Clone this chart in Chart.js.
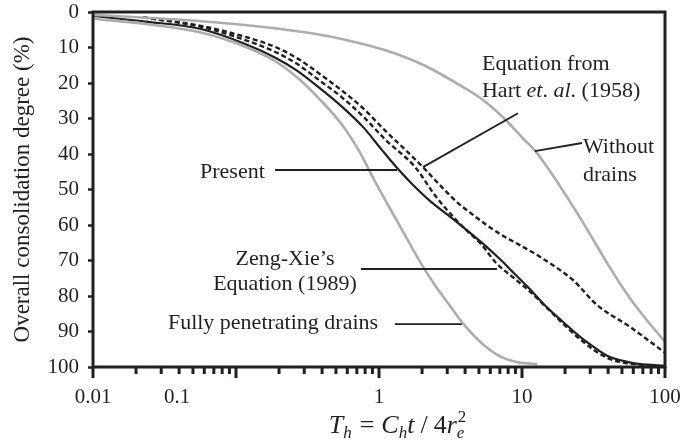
<!DOCTYPE html>
<html><head><meta charset="utf-8">
<script src="https://cdn.jsdelivr.net/npm/chart.js@4/dist/chart.umd.min.js"></script>
<style>html,body{margin:0;padding:0;background:#fff;}#wrap{width:684px;height:445px;}</style>
</head><body><div id="wrap"><canvas id="c" width="684" height="445"></canvas></div>
<script>
// ---- axis tick labels ----
const xTickValues = [0.01, 0.0387, 1, 10, 100];
const xTickLabels = ['0.01', '0.1', '1', '10', '100'];
const yTickValues = [0, 10, 20, 30, 40, 50, 60, 70, 80, 90, 100];

// ---- series (T_h, overall consolidation degree %) ----
const presentT = [0.01, 0.0233, 0.0569, 0.116, 0.187, 0.267, 0.381, 0.545, 0.778, 1.05, 1.33, 1.69, 2.27, 3.06, 4.09, 5.53, 7.0, 8.9, 11.2, 14.2, 18.5, 25.5, 30.8, 39.3, 50, 66.8, 100];
const presentU = [1.1, 2.7, 4.8, 9.0, 12.8, 16.5, 21.3, 26.5, 32.5, 38.9, 43.8, 48.3, 53.2, 57.3, 61.4, 65.8, 69.6, 73.8, 77.8, 82.3, 86.6, 91.5, 94.0, 96.8, 98.2, 99.2, 99.6];

const fullyT = [0.01, 0.0233, 0.0569, 0.116, 0.187, 0.267, 0.381, 0.545, 0.734, 0.931, 1.18, 1.50, 1.90, 2.41, 3.06, 3.88, 5.23, 7.04, 9.48, 12.8];
const fullyU = [1.9, 3.4, 5.8, 9.8, 13.8, 18.4, 24.4, 31.5, 39.5, 47.5, 55.0, 62.4, 69.8, 76.4, 82.2, 87.8, 93.3, 97.0, 98.7, 99.2];

const withoutT = [0.01, 0.0233, 0.0569, 0.139, 0.339, 0.611, 1.11, 2.01, 3.64, 5.23, 7.52, 10.1, 12.4, 16.1, 21.7, 29.3, 39.5, 53.3, 71.9, 100];
const withoutU = [0.8, 1.6, 2.6, 4.0, 6.0, 8.0, 10.8, 14.8, 20.5, 24.5, 30.0, 35.5, 39.2, 45.5, 53.5, 62.0, 70.8, 79.0, 86.0, 92.9];

const hartT = [0.0224, 0.0569, 0.116, 0.187, 0.267, 0.381, 0.545, 0.778, 1.11, 1.50, 2.03, 2.7, 3.5, 4.6, 6.68, 10, 13.4, 22.7, 33.4, 56.9, 100];
const hartU = [1.5, 3.9, 7.0, 9.8, 13.0, 17.3, 22.0, 27.2, 33.5, 38.5, 43.7, 49.0, 53.5, 57.3, 62.0, 66.0, 69.0, 75.5, 82.5, 88.7, 96.0];

const zengT = [0.0224, 0.0569, 0.116, 0.187, 0.267, 0.381, 0.545, 0.778, 1.11, 1.79, 2.5, 3.64, 5.2, 6.63, 9.0, 11.4, 18.5, 25.5, 39.3, 66.8, 100];
const zengU = [1.5, 4.2, 7.9, 11.2, 14.6, 19.2, 23.9, 29.5, 36.0, 43.7, 52.0, 59.5, 65.5, 70.8, 75.3, 78.8, 87.0, 92.2, 97.4, 99.4, 99.8];

// ---- annotations (in data coordinates) ----
const labelTexts = [
  {parts: [['Equation from', false]], T: 5.25, U: 16.3, align: 'left'},
  {parts: [['Hart ', false], ['et', true], ['. ', false], ['al', true], ['. (1958)', false]], T: 5.25, U: 23.9, align: 'left'},
  {parts: [['Without', false]], T: 26.7, U: 39.7, align: 'left'},
  {parts: [['drains', false]], T: 26.7, U: 47.6, align: 'left'},
  {parts: [['Present', false]], T: 0.056, U: 46.8, align: 'left'},
  {parts: [['Zeng-Xie\u2019s', false]], T: 0.220, U: 71.3, align: 'center'},
  {parts: [['Equation (1989)', false]], T: 0.220, U: 78.3, align: 'center'},
  {parts: [['Fully penetrating drains', false]], T: 0.0334, U: 89.3, align: 'left'}
];
const leaderLines = [
  [9.38, 28.5, 2.03, 43.7],
  [26.3, 36.9, 12.3, 39.2],
  [0.1876, 44.5, 1.34, 44.5],
  [0.748, 72.4, 6.68, 72.4],
  [1.29, 87.9, 3.80, 87.9]
];

const INK = '#231f20';
const GRAY = '#adadad';
const SERIF = '"Liberation Serif", "Times New Roman", serif';

function pts(T, U) { return T.map((t, i) => ({x: t, y: U[i]})); }

const overlay = {
  id: 'overlay',
  afterDraw(chart) {
    const ctx = chart.ctx, a = chart.chartArea;
    const xs = chart.scales.x, ys = chart.scales.y;
    ctx.save();
    // leader lines
    ctx.strokeStyle = INK; ctx.lineWidth = 1.8;
    leaderLines.forEach(l => {
      ctx.beginPath();
      ctx.moveTo(xs.getPixelForValue(l[0]), ys.getPixelForValue(l[1]));
      ctx.lineTo(xs.getPixelForValue(l[2]), ys.getPixelForValue(l[3]));
      ctx.stroke();
    });
    // labels
    ctx.fillStyle = INK; ctx.textBaseline = 'alphabetic';
    labelTexts.forEach(lb => {
      let widths = lb.parts.map(p => { ctx.font = (p[1] ? 'italic ' : '') + '22px ' + SERIF; return ctx.measureText(p[0]).width; });
      let total = widths.reduce((s, w) => s + w, 0);
      let x = xs.getPixelForValue(lb.T);
      if (lb.align === 'center') x -= total / 2;
      const y = ys.getPixelForValue(lb.U);
      ctx.textAlign = 'left';
      lb.parts.forEach((p, i) => { ctx.font = (p[1] ? 'italic ' : '') + '22px ' + SERIF; ctx.fillText(p[0], x, y); x += widths[i]; });
    });
    // x axis title: T_h = C_h t / 4 r_e^2
    const segs = [
      {t: 'T', it: true}, {t: 'h', it: true, sub: true, gap: 8}, {t: '=', it: false, gap: 7},
      {t: 'C', it: true}, {t: 'h', it: true, sub: true}, {t: 't', it: true, gap: 6},
      {t: '/', it: false, gap: 6}, {t: '4', it: false}, {t: 'r', it: true}, {t: 'e', it: true, sub: true}, {t: '2', it: false, sup: true, stack: true}
    ];
    const big = 26, small = 17;
    const fontOf = s => (s.it ? 'italic ' : '') + ((s.sub || s.sup) ? small : big) + 'px ' + SERIF;
    const ws = segs.map(s => { ctx.font = fontOf(s); return ctx.measureText(s.t).width; });
    let total = 0;
    segs.forEach((s, i) => { if (s.stack) total += Math.max(0, ws[i] - ws[i - 1]); else total += ws[i] + (s.gap || 0); });
    let x = (a.left + a.right) / 2 + 18 - total / 2;
    const base = a.bottom + 66;
    let prevX = x;
    segs.forEach((s, i) => {
      ctx.font = fontOf(s);
      let y = base, drawX = x;
      if (s.sub) y = base + 5;
      if (s.sup) y = base - 11;
      if (s.stack) drawX = prevX + 1;
      ctx.fillText(s.t, drawX, y);
      if (!s.stack) { prevX = x; x += ws[i] + (s.gap || 0); }
    });
    // frame
    ctx.strokeStyle = INK; ctx.lineWidth = 3;
    ctx.strokeRect(a.left, a.top, a.right - a.left, a.bottom - a.top);
    // x tick marks
    for (let k = -2; k <= 1; k++) {
      for (let m = 1; m <= 9; m++) {
        const px = xs.getPixelForValue(m * Math.pow(10, k));
        ctx.beginPath();
        ctx.moveTo(px, a.bottom);
        ctx.lineTo(px, a.bottom + (m === 1 ? 11 : 7));
        ctx.stroke();
      }
    }
    const p100 = xs.getPixelForValue(100);
    ctx.beginPath(); ctx.moveTo(p100, a.bottom); ctx.lineTo(p100, a.bottom + 11); ctx.stroke();
    ctx.restore();
  }
};

new Chart(document.getElementById('c'), {
  type: 'line',
  data: {
    datasets: [
      {label: 'Without drains', data: pts(withoutT, withoutU), borderColor: GRAY, borderWidth: 2.6},
      {label: 'Fully penetrating drains', data: pts(fullyT, fullyU), borderColor: GRAY, borderWidth: 2.6},
      {label: 'Equation from Hart et. al. (1958)', data: pts(hartT, hartU), borderColor: INK, borderWidth: 2.4, borderDash: [5, 3]},
      {label: "Zeng-Xie's Equation (1989)", data: pts(zengT, zengU), borderColor: INK, borderWidth: 2.4, borderDash: [5, 3]},
      {label: 'Present', data: pts(presentT, presentU), borderColor: INK, borderWidth: 2.2}
    ]
  },
  options: {
    responsive: false, animation: false, devicePixelRatio: 1,
    layout: {padding: {top: 12, right: 19, left: 0, bottom: 0}},
    plugins: {legend: {display: false}, tooltip: {enabled: false}},
    elements: {point: {radius: 0}, line: {cubicInterpolationMode: 'monotone', fill: false}},
    scales: {
      x: {
        type: 'logarithmic', min: 0.01, max: 100,
        afterBuildTicks: s => { s.ticks = xTickValues.map(v => ({value: v})); },
        afterFit: s => { s.height = 78; s.paddingLeft = 0; s.paddingRight = 0; },
        ticks: {callback: (v, i) => xTickLabels[i], autoSkip: false, maxRotation: 0, padding: 18, color: INK, font: {family: SERIF, size: 21}},
        grid: {display: false, drawTicks: false},
        border: {display: false}
      },
      y: {
        min: 0, max: 100, reverse: true,
        afterBuildTicks: s => { s.ticks = yTickValues.map(v => ({value: v})); },
        afterFit: s => { s.width = 93; s.paddingTop = 0; s.paddingBottom = 0; },
        ticks: {padding: 9, color: INK, font: {family: SERIF, size: 21}},
        grid: {display: true, drawOnChartArea: false, drawTicks: true, tickLength: 5, tickColor: INK, tickWidth: 2.5, color: 'rgba(0,0,0,0)'},
        border: {display: false},
        title: {display: true, text: 'Overall consolidation degree (%)', color: INK, font: {family: SERIF, size: 23}, padding: {top: 9, bottom: 0}}
      }
    }
  },
  plugins: [overlay]
});
</script>
</body></html>
